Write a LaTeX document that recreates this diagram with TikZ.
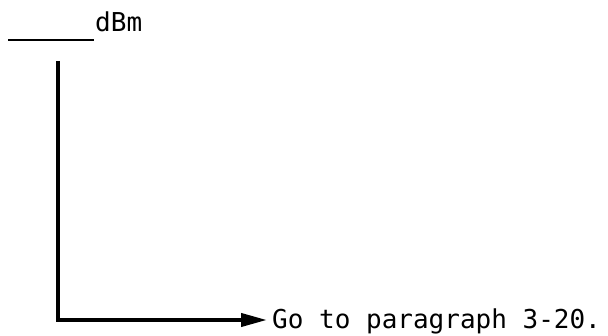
\documentclass[tikz,border=0pt]{standalone}
\usepackage{fontspec}
\setmainfont{DejaVu Sans Mono}
\usetikzlibrary{arrows.meta}

\begin{document}
\begin{tikzpicture}[x=1pt, y=-1pt, every node/.style={inner sep=0pt, font=\fontsize{26}{31}\selectfont}]
  \useasboundingbox (0,0) rectangle (608,336);

  % blank line for the reading
  \coordinate (blankL) at (8,40);
  \coordinate (blankR) at (94,40);
  \draw[line width=2.5pt] (blankL) -- (blankR);
  \node[anchor=base west] (dbm) at (95,32) {dBm};

  % leader to the next step
  \coordinate (start) at (57.5,61);
  \coordinate (corner) at (57.5,320);
  \node[anchor=base west] (goto) at (272,329) {Go to paragraph 3-20.};

  \draw[line width=4pt, shorten >=5pt, -{Triangle[length=26pt, width=13pt]}] (start) -- (corner) -- (goto.west |- corner);
\end{tikzpicture}
\end{document}
